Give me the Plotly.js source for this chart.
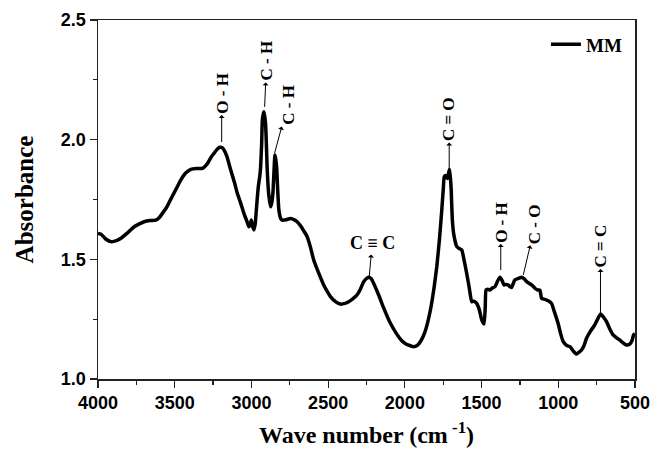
<!DOCTYPE html>
<html>
<head>
<meta charset="utf-8">
<script src="https://cdn.plot.ly/plotly-3.0.1.min.js"></script>
<style>html,body{margin:0;padding:0;background:#fff}#chart{width:658px;height:454px}</style>
</head>
<body>
<div id="chart"></div>
<script>
const wavenumber = [4000,3980,3950,3915,3880,3850,3800,3764,3730,3699,3660,3623,3600,3580,3550,3525,3490,3460,3430,3395,3360,3320,3287,3260,3244,3220,3205,3190,3179,3160,3135,3110,3092,3070,3049,3030,3016,3008,3001,2993,2984,2975,2968,2960,2955,2945,2940,2933,2929,2922,2919,2914,2908,2902,2897,2887,2875,2868,2860,2852,2847,2842,2836,2828,2821,2810,2800,2775,2745,2720,2702,2680,2660,2637,2615,2594,2560,2529,2505,2485,2450,2420,2390,2366,2340,2312,2290,2268,2250,2237,2220,2200,2170,2140,2100,2060,2020,1990,1960,1944,1920,1895,1870,1850,1830,1810,1792,1775,1760,1750,1743,1735,1728,1722,1715,1709,1703,1698,1690,1680,1661,1645,1629,1615,1597,1580,1564,1550,1532,1515,1499,1484,1476,1471,1460,1445,1430,1412,1395,1380,1365,1354,1340,1326,1315,1304,1293,1283,1260,1239,1222,1206,1190,1174,1160,1152,1135,1120,1109,1090,1076,1060,1044,1025,1001,985,968,945,924,900,881,865,849,832,816,790,762,740,724,705,685,665,643,620,600,580,557,535,520,509,500];
const absorbance = [1.608,1.605,1.585,1.574,1.578,1.588,1.615,1.636,1.648,1.657,1.662,1.664,1.675,1.692,1.720,1.752,1.795,1.832,1.860,1.876,1.880,1.880,1.900,1.930,1.943,1.962,1.968,1.966,1.957,1.930,1.873,1.820,1.776,1.735,1.692,1.660,1.636,1.645,1.664,1.640,1.623,1.650,1.706,1.770,1.804,1.850,1.887,1.990,2.080,2.110,2.117,2.100,2.068,1.970,1.873,1.770,1.720,1.735,1.776,1.880,1.936,1.920,1.887,1.780,1.706,1.672,1.664,1.665,1.671,1.665,1.657,1.640,1.620,1.595,1.550,1.497,1.440,1.393,1.365,1.344,1.322,1.313,1.316,1.323,1.335,1.351,1.375,1.407,1.420,1.425,1.420,1.395,1.350,1.300,1.240,1.195,1.160,1.145,1.138,1.135,1.140,1.160,1.195,1.240,1.300,1.380,1.469,1.580,1.700,1.790,1.845,1.850,1.845,1.838,1.860,1.876,1.840,1.790,1.660,1.600,1.553,1.545,1.539,1.500,1.441,1.380,1.323,1.325,1.316,1.290,1.247,1.230,1.300,1.372,1.375,1.372,1.380,1.386,1.410,1.425,1.410,1.393,1.395,1.393,1.385,1.383,1.400,1.414,1.420,1.425,1.418,1.407,1.400,1.393,1.385,1.379,1.372,1.372,1.337,1.333,1.330,1.325,1.316,1.280,1.232,1.190,1.156,1.140,1.135,1.115,1.104,1.112,1.121,1.140,1.170,1.200,1.226,1.255,1.272,1.258,1.239,1.210,1.184,1.172,1.163,1.152,1.142,1.145,1.160,1.184,1.190];

const xTickVals = [4000,3500,3000,2500,2000,1500,1000,500];
const yTickVals = [1.0,1.5,2.0,2.5];

// peak labels: text, wavenumber and absorbance of arrow tail, pixel offset of label
const peakLabels = ["O - H","C - H","C - H","C \u2261 C","C = O","O - H","C - O","C = C"];
const peakWn =     [3194, 2914, 2849, 2232, 1711, 1375, 1228, 725];
const peakAbs =    [1.990, 2.137, 1.944, 1.430, 1.882, 1.455, 1.435, 1.276];
const labelDx =    [0, 2, 13, 3, 0, 0, 12, 0];
const labelDy =    [-49, -46, -48, -33, -49, -48, -51, -67];
const labelAngle = [-90, -90, -90, 0, -90, -90, -90, -90];

const serifBold = {family: '"Liberation Serif", "Times New Roman", serif', color: '#000'};

const annotations = peakLabels.map((t, i) => ({
  x: peakWn[i], y: peakAbs[i], xref: 'x', yref: 'y',
  text: '<b>' + t + '</b>',
  textangle: labelAngle[i],
  font: Object.assign({}, serifBold, {size: labelAngle[i] === 0 ? 18 : 17}),
  showarrow: true, arrowside: 'start', arrowhead: 2, arrowsize: 1.2, arrowwidth: 1, arrowcolor: '#000',
  ax: labelDx[i], ay: labelDy[i], borderpad: 0, standoff: 0, startstandoff: 1
}));

const data = [{
  x: wavenumber, y: absorbance, type: 'scatter', mode: 'lines', name: '<b>MM</b>',
  line: {color: '#000', width: 3.5, shape: 'spline', smoothing: 0.5}
}];

const layout = {
  width: 658, height: 454,
  margin: {l: 98, r: 23, t: 20, b: 75},
  paper_bgcolor: '#fff', plot_bgcolor: '#fff',
  showlegend: true,
  legend: {x: 0.985, y: 0.985, xanchor: 'right', yanchor: 'top', bgcolor: 'rgba(0,0,0,0)',
           font: {family: serifBold.family, size: 19, color: '#000', weight: 'bold'}},
  xaxis: {
    range: [4000, 500], autorange: false,
    tickvals: xTickVals, ticktext: xTickVals.map(String),
    ticks: 'outside', ticklen: 7, tickwidth: 1.2, tickcolor: '#222',
    minor: {dtick: 250, ticks: 'outside', ticklen: 4, tickwidth: 1.2, tickcolor: '#222', showgrid: false},
    showline: true, linecolor: '#222', linewidth: 1.5, mirror: true,
    showgrid: false, zeroline: false,
    tickfont: {family: 'Arial, "Liberation Sans", sans-serif', size: 18, color: '#000', weight: 'bold'},
    title: {text: '<b>Wave number (cm<sup> -1</sup>)</b>', font: Object.assign({}, serifBold, {size: 24}), standoff: 14}
  },
  yaxis: {
    range: [1.0, 2.5], autorange: false,
    tickvals: yTickVals, ticktext: yTickVals.map(v => v.toFixed(1)),
    ticks: 'outside', ticklen: 7, tickwidth: 1.2, tickcolor: '#222',
    minor: {dtick: 0.25, ticks: 'outside', ticklen: 4, tickwidth: 1.2, tickcolor: '#222', showgrid: false},
    showline: true, linecolor: '#222', linewidth: 1.5, mirror: true,
    showgrid: false, zeroline: false,
    tickfont: {family: 'Arial, "Liberation Sans", sans-serif', size: 18, color: '#000', weight: 'bold'},
    title: {text: '<b>Absorbance</b>', font: Object.assign({}, serifBold, {size: 25}), standoff: 20}
  },
  annotations: annotations
};

Plotly.newPlot('chart', data, layout, {staticPlot: true, displayModeBar: false});
</script>
</body>
</html>
